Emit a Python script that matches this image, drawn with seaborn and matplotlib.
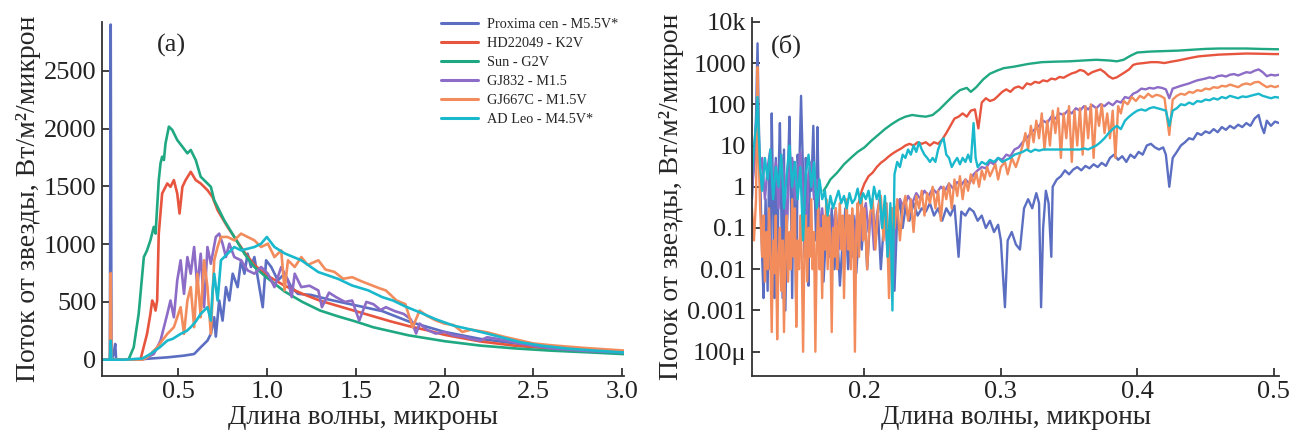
import matplotlib
matplotlib.use('Agg')
import matplotlib.pyplot as plt
import numpy as np
import pandas as pd
import seaborn as sns

# star names (legend order) and colours
stars = ['Proxima cen - M5.5V*', 'HD22049 - K2V', 'Sun - G2V',
         'GJ832 - M1.5', 'GJ667C - M1.5V', 'AD Leo - M4.5V*']
colors = ['#5b6ec2', '#e8553f', '#1fa882', '#8c6cc6', '#f28c5c', '#1ab8cc']

# ---------- panel (a): linear scale, 0.07 - 3 micron ----------
a_wl_prox = [0.07, 0.117, 0.1216, 0.126, 0.138, 0.147, 0.152, 0.3, 0.44, 0.534, 0.591, 0.628, 0.666, 0.685,
             0.704, 0.713, 0.732, 0.751, 0.77, 0.789, 0.808, 0.836, 0.855, 0.874, 0.892, 0.911, 0.93, 0.958,
             0.977, 0.996, 1.025, 1.062, 1.1, 1.138, 1.175, 1.25, 1.35, 1.5, 1.65, 1.8, 2.0, 2.2, 2.5, 2.8,
             3.0, 3.05]
a_fl_prox = [0, 0, 2900, 0, 49, 136, 0, 5, 20, 35, 49, 107, 165, 223,
             367, 200, 512, 338, 628, 512, 744, 628, 860, 744, 917, 802, 888, 628,
             454, 860, 802, 686, 744, 628, 570, 560, 520, 470, 420, 330, 240, 180, 120, 80,
             60, 58]

a_wl_hd = [0.07, 0.289, 0.326, 0.345, 0.355, 0.364, 0.374, 0.383, 0.392, 0.411, 0.44, 0.458, 0.477, 0.496,
           0.509, 0.525, 0.543, 0.572, 0.6, 0.628, 0.666, 0.694, 0.723, 0.779, 0.817, 0.874, 0.93, 1.0,
           1.1, 1.2, 1.3, 1.4, 1.5, 1.6, 1.7, 1.8, 1.9, 2.0, 2.2, 2.4, 2.6, 2.8, 3.0, 3.05]
a_fl_hd = [0, 0, 223, 396, 512, 483, 425, 512, 1091, 1438, 1525, 1496, 1554, 1438,
           1265, 1496, 1554, 1626, 1554, 1525, 1467, 1409, 1294, 1149, 1062, 930, 820, 730,
           640, 570, 510, 465, 420, 375, 330, 290, 255, 215, 158, 120, 97, 78, 64, 63]

a_wl_sun = [0.07, 0.2, 0.223, 0.251, 0.279, 0.308, 0.326, 0.345, 0.364, 0.374, 0.392, 0.402, 0.411, 0.421,
            0.43, 0.449, 0.468, 0.496, 0.525, 0.553, 0.572, 0.6, 0.628, 0.666, 0.685, 0.704, 0.76, 0.817,
            0.874, 0.93, 1.0, 1.1, 1.2, 1.3, 1.4, 1.5, 1.6, 1.7, 1.8, 1.9, 2.0, 2.2, 2.4, 2.6, 2.8,
            3.0, 3.05]
a_fl_sun = [0, 0, 5, 107, 396, 888, 946, 1033, 1149, 1091, 1554, 1700, 1757, 1728,
            1872, 2017, 1988, 1901, 1843, 1786, 1815, 1728, 1583, 1525, 1496, 1380, 1207, 1062,
            917, 802, 710, 590, 500, 425, 375, 330, 280, 245, 210, 185, 160, 122, 97, 78, 64,
            49, 48]

a_wl_gj832 = [0.07, 0.3, 0.364, 0.402, 0.44, 0.458, 0.477, 0.496, 0.515, 0.534, 0.553, 0.572, 0.591, 0.609,
              0.628, 0.647, 0.666, 0.685, 0.713, 0.732, 0.751, 0.77, 0.789, 0.817, 0.855, 0.892, 0.93,
              0.968, 1.006, 1.043, 1.081, 1.119, 1.14, 1.157, 1.194, 1.24, 1.29, 1.31, 1.35, 1.39, 1.44,
              1.48, 1.52, 1.56, 1.6, 1.64, 1.67, 1.72, 1.77, 1.81, 1.84, 1.86, 1.9, 1.95, 2.0, 2.05, 2.1,
              2.15, 2.2, 2.24, 2.3, 2.43, 2.5, 2.62, 2.8, 3.0, 3.05]
a_fl_gj832 = [0, 0, 49, 165, 396, 512, 367, 686, 860, 570, 888, 744, 975, 628,
              917, 454, 975, 830, 1062, 1091, 1004, 888, 1004, 888, 860, 773, 744,
              802, 744, 628, 802, 686, 541, 744, 628, 640, 599, 454, 580, 541, 500,
              512, 338, 500, 480, 430, 454, 420, 396, 350, 226, 312, 260, 226, 240, 210, 200,
              180, 165, 194, 180, 138, 120, 95, 75, 63, 62]

a_wl_gj667 = [0.07, 0.117, 0.1216, 0.126, 0.3, 0.326, 0.383, 0.44, 0.477, 0.515, 0.534, 0.553, 0.572, 0.591,
              0.609, 0.628, 0.647, 0.666, 0.685, 0.704, 0.723, 0.742, 0.779, 0.817, 0.855, 0.892, 0.93,
              0.968, 1.006, 1.043, 1.081, 1.1, 1.119, 1.157, 1.194, 1.23, 1.29, 1.33, 1.38, 1.43, 1.48,
              1.53, 1.58, 1.63, 1.67, 1.73, 1.78, 1.82, 1.86, 1.9, 1.95, 2.0, 2.05, 2.1, 2.15, 2.24, 2.33,
              2.43, 2.5, 2.62, 2.8, 3.0, 3.05]
a_fl_gj667 = [0, 0, 750, 0, 0, 20, 107, 223, 281, 454, 223, 512, 628, 281,
              744, 367, 860, 628, 223, 860, 975, 1062, 1062, 1033, 1091, 1062, 1033,
              975, 1004, 888, 946, 600, 860, 802, 888, 820, 860, 780, 760, 700, 714,
              680, 650, 620, 599, 512, 480, 280, 425, 380, 340, 312, 300, 240, 260, 237, 200,
              165, 140, 122, 100, 80, 78]

a_wl_adleo = [0.07, 0.117, 0.1216, 0.126, 0.2, 0.3, 0.345, 0.4, 0.44, 0.47, 0.515, 0.55, 0.572, 0.6,
              0.628, 0.666, 0.685, 0.695, 0.704, 0.723, 0.742, 0.779, 0.817, 0.855, 0.892, 0.93, 0.968,
              1.0, 1.043, 1.1, 1.194, 1.29, 1.4, 1.48, 1.57, 1.65, 1.71, 1.78, 1.86, 1.95, 2.05, 2.15,
              2.24, 2.33, 2.43, 2.55, 2.7, 2.85, 3.0, 3.05]
a_fl_adleo = [0, 0, 165, 0, 0, 10, 49, 110, 165, 180, 223, 250, 281, 330,
              396, 454, 338, 600, 744, 512, 860, 917, 975, 946, 960, 975, 1004,
              1062, 975, 920, 860, 758, 700, 642, 600, 541, 512, 460, 410, 350, 295, 260,
              226, 190, 150, 120, 95, 78, 63, 62]

# ---------- panel (b): log scale, 0.12 - 0.5 micron ----------
b_wl_prox = [0.1175, 0.119, 0.1205, 0.1216, 0.1225, 0.1235, 0.125, 0.126, 0.1275, 0.129, 0.130, 0.131,
             0.132, 0.133, 0.134, 0.135, 0.136, 0.137, 0.138, 0.139, 0.140, 0.141, 0.142, 0.143, 0.144,
             0.145, 0.146, 0.147, 0.148, 0.149, 0.150, 0.151, 0.152, 0.1535, 0.155, 0.156, 0.157, 0.158,
             0.159, 0.160, 0.161, 0.1625, 0.1635, 0.1645, 0.1655, 0.1665, 0.168, 0.169, 0.170, 0.172,
             0.174, 0.176, 0.178, 0.180, 0.182, 0.184, 0.186, 0.188, 0.190, 0.192, 0.194, 0.196, 0.198,
             0.200, 0.202, 0.204, 0.206, 0.208, 0.210, 0.212, 0.214, 0.216, 0.218, 0.220, 0.222, 0.224,
             0.226, 0.228, 0.230, 0.233, 0.236, 0.239, 0.242, 0.245, 0.248, 0.251, 0.254, 0.257, 0.260,
             0.263, 0.266, 0.269, 0.271, 0.274, 0.277, 0.280, 0.283, 0.286, 0.289, 0.292, 0.295, 0.298,
             0.300, 0.303, 0.305, 0.308, 0.311, 0.314, 0.317, 0.320, 0.323, 0.326, 0.328, 0.3295, 0.331,
             0.333, 0.335, 0.337, 0.338, 0.341, 0.344, 0.347, 0.350, 0.353, 0.356, 0.359, 0.362, 0.365,
             0.368, 0.371, 0.374, 0.377, 0.380, 0.383, 0.386, 0.389, 0.392, 0.395, 0.398, 0.401, 0.404,
             0.407, 0.410, 0.413, 0.416, 0.419, 0.421, 0.4235, 0.426, 0.429, 0.432, 0.435, 0.438, 0.441,
             0.444, 0.447, 0.450, 0.453, 0.456, 0.459, 0.462, 0.465, 0.468, 0.471, 0.474, 0.477, 0.480,
             0.483, 0.486, 0.489, 0.491, 0.493, 0.495, 0.498, 0.501, 0.504]
b_fl_prox = [0.5, 5, 50, 3000, 40, 2, 0.02, 0.002, 0.5, 0.003, 3, 0.01,
             60, 0.5, 0.002, 5, 0.001, 2, 35, 0.3, 0.002, 8, 0.001, 0.05, 3,
             50, 0.8, 0.002, 4, 0.3, 0.001, 6, 1.5, 160, 2, 0.02, 5, 0.3,
             0.004, 3, 0.8, 30, 1, 0.05, 28, 0.5, 0.01, 0.2, 0.005, 0.1,
             0.02, 0.3, 0.01, 0.08, 0.004, 0.05, 0.3, 0.01, 0.06, 0.2, 0.008, 0.1, 0.03,
             0.3, 0.01, 0.15, 0.4, 0.05, 0.2, 0.01, 0.1, 0.4, 0.02, 0.3, 0.003, 0.2,
             0.5, 0.1, 0.3, 0.15, 0.4, 0.2, 0.3, 0.25, 0.4, 0.2, 0.3, 0.15, 0.3,
             0.2, 0.35, 0.02, 0.25, 0.2, 0.3, 0.25, 0.15, 0.2, 0.1, 0.15, 0.08, 0.12,
             0.05, 0.0012, 0.05, 0.08, 0.04, 0.03, 0.3, 0.5, 0.3, 0.7, 0.4, 0.0012, 0.1,
             0.8, 0.4, 0.02, 1.0, 1.5, 1.8, 2.5, 2.0, 2.6, 3.0, 2.5, 3.2, 2.8,
             3.5, 3.0, 3.8, 3.2, 5, 6, 4.5, 5.5, 4, 6, 5, 7, 6,
             10, 11, 9, 8, 9, 6, 1.0, 5, 7, 10, 12, 15, 14,
             20, 18, 22, 20, 25, 21, 28, 24, 30, 26, 32, 28, 35,
             30, 45, 55, 30, 20, 40, 30, 38, 35]

b_wl_hd = [0.195, 0.198, 0.200, 0.203, 0.206, 0.209, 0.212, 0.215, 0.218, 0.221, 0.224, 0.227, 0.230,
           0.233, 0.236, 0.239, 0.242, 0.245, 0.248, 0.251, 0.254, 0.257, 0.260, 0.263, 0.266, 0.269,
           0.272, 0.275, 0.278, 0.281, 0.2835, 0.286, 0.289, 0.292, 0.295, 0.298, 0.301, 0.304, 0.307,
           0.310, 0.313, 0.316, 0.319, 0.322, 0.325, 0.328, 0.331, 0.334, 0.337, 0.340, 0.343, 0.346,
           0.349, 0.352, 0.355, 0.358, 0.361, 0.364, 0.367, 0.370, 0.373, 0.376, 0.379, 0.382, 0.385,
           0.388, 0.391, 0.394, 0.397, 0.400, 0.405, 0.410, 0.415, 0.420, 0.425, 0.430, 0.435, 0.440,
           0.445, 0.450, 0.455, 0.460, 0.470, 0.480, 0.490, 0.500, 0.505]
b_fl_hd = [0.3, 0.8, 1.2, 1.8, 2.2, 3, 3.8, 4.5, 5.5, 6.5, 7.5, 8.5, 10,
           11, 10, 12, 11, 12, 10, 12, 11, 14, 20, 30, 45, 50,
           60, 50, 70, 75, 26, 110, 140, 120, 130, 160, 200, 230, 200,
           250, 270, 240, 320, 300, 350, 330, 380, 360, 420, 400, 460, 440,
           500, 560, 600, 680, 640, 520, 600, 650, 700, 600, 480, 420, 450,
           520, 600, 700, 900, 960, 1000, 1050, 1050, 1000, 1080, 1150, 1250, 1350,
           1450, 1500, 1550, 1600, 1650, 1700, 1680, 1650, 1650]

b_wl_sun = [0.170, 0.172, 0.175, 0.180, 0.185, 0.190, 0.195, 0.200, 0.205, 0.210, 0.215, 0.220, 0.225,
            0.230, 0.235, 0.240, 0.245, 0.250, 0.255, 0.260, 0.265, 0.270, 0.275, 0.278, 0.282, 0.287,
            0.292, 0.297, 0.302, 0.310, 0.320, 0.330, 0.340, 0.350, 0.360, 0.370, 0.380, 0.385, 0.390,
            0.395, 0.400, 0.410, 0.420, 0.430, 0.440, 0.450, 0.460, 0.470, 0.480, 0.490, 0.505]
b_fl_sun = [0.8, 1.0, 1.5, 2.2, 3.5, 5, 7, 9, 13, 18, 25, 33, 42,
            50, 55, 52, 50, 55, 75, 110, 160, 220, 250, 200, 260, 400,
            550, 650, 750, 820, 950, 1050, 1080, 1100, 1150, 1200, 1150, 1100, 1200,
            1500, 1800, 1900, 1950, 2000, 2100, 2200, 2250, 2250, 2250, 2200, 2150]

b_wl_gj832 = [0.1175, 0.119, 0.1216, 0.123, 0.125, 0.127, 0.129, 0.131, 0.133, 0.135, 0.137, 0.139, 0.141,
              0.143, 0.145, 0.147, 0.149, 0.151, 0.153, 0.155, 0.157, 0.159, 0.161, 0.163, 0.165, 0.167,
              0.169, 0.171, 0.173, 0.175, 0.177, 0.179, 0.181, 0.183, 0.185, 0.187, 0.189, 0.191, 0.193,
              0.195, 0.197, 0.199, 0.201, 0.203, 0.205, 0.207, 0.209, 0.211, 0.213, 0.215, 0.217, 0.219,
              0.221, 0.223, 0.226, 0.229, 0.232, 0.235, 0.238, 0.241, 0.244, 0.247, 0.250, 0.253, 0.256,
              0.259, 0.262, 0.265, 0.268, 0.271, 0.274, 0.277, 0.280, 0.283, 0.286, 0.289, 0.292, 0.295,
              0.298, 0.301, 0.304, 0.307, 0.310, 0.313, 0.316, 0.319, 0.322, 0.325, 0.328, 0.331, 0.334,
              0.337, 0.340, 0.343, 0.346, 0.349, 0.352, 0.355, 0.358, 0.361, 0.364, 0.367, 0.370, 0.373,
              0.376, 0.379, 0.382, 0.385, 0.388, 0.391, 0.394, 0.397, 0.400, 0.403, 0.406, 0.409, 0.412,
              0.415, 0.418, 0.421, 0.4235, 0.426, 0.429, 0.432, 0.435, 0.438, 0.441, 0.444, 0.447, 0.450,
              0.453, 0.456, 0.459, 0.462, 0.465, 0.468, 0.471, 0.474, 0.477, 0.480, 0.483, 0.486, 0.489,
              0.492, 0.495, 0.498, 0.501, 0.504]
b_fl_gj832 = [1, 3, 20, 2, 5, 0.5, 3, 8, 1, 4, 0.3, 6, 2,
              0.1, 3, 5, 0.5, 2, 7, 1, 0.05, 2, 4, 0.5, 1.5, 0.1,
              0.3, 0.05, 0.2, 0.02, 0.1, 0.3, 0.03, 0.15, 0.01, 0.1, 0.2, 0.02, 0.08,
              0.3, 0.05, 0.2, 0.4, 0.08, 0.3, 0.03, 0.2, 0.5, 0.1, 0.3, 0.02, 0.15,
              0.005, 0.3, 0.5, 0.3, 0.6, 0.4, 0.7, 0.5, 0.8, 0.6, 0.9, 0.7, 1.0,
              0.8, 1.2, 0.9, 1.3, 1.1, 1.5, 1.2, 2, 2.5, 3, 2.8, 4, 3.5,
              5, 4.5, 6, 5.5, 8, 9, 12, 15, 20, 25, 30, 40, 35,
              50, 45, 60, 55, 70, 60, 80, 70, 90, 75, 95, 80, 100,
              90, 110, 95, 120, 110, 150, 140, 180, 200, 240, 230, 250, 240,
              260, 250, 230, 140, 240, 260, 280, 300, 320, 350, 380, 400, 420,
              450, 430, 480, 500, 470, 520, 540, 500, 550, 600, 580, 650, 700,
              600, 480, 520, 500, 520]

b_wl_gj667 = [0.1175, 0.119, 0.1205, 0.1216, 0.1225, 0.1235, 0.125, 0.126, 0.127, 0.128, 0.129, 0.130,
              0.131, 0.132, 0.133, 0.134, 0.135, 0.136, 0.137, 0.138, 0.139, 0.140, 0.141, 0.142, 0.143,
              0.144, 0.145, 0.146, 0.147, 0.148, 0.149, 0.150, 0.151, 0.152, 0.153, 0.154, 0.155, 0.156,
              0.157, 0.158, 0.159, 0.160, 0.161, 0.162, 0.163, 0.164, 0.165, 0.166, 0.167, 0.168, 0.169,
              0.170, 0.171, 0.172, 0.173, 0.174, 0.175, 0.176, 0.177, 0.178, 0.179, 0.180, 0.181, 0.182,
              0.183, 0.184, 0.185, 0.186, 0.187, 0.188, 0.189, 0.190, 0.191, 0.192, 0.193, 0.194, 0.195,
              0.196, 0.197, 0.198, 0.199, 0.200, 0.202, 0.204, 0.206, 0.208, 0.210, 0.212, 0.214, 0.216,
              0.218, 0.220, 0.222, 0.224, 0.226, 0.228, 0.230, 0.232, 0.234, 0.236, 0.238, 0.240, 0.242,
              0.244, 0.246, 0.248, 0.250, 0.252, 0.254, 0.256, 0.258, 0.260, 0.262, 0.264, 0.266, 0.268,
              0.270, 0.272, 0.274, 0.276, 0.278, 0.280, 0.282, 0.284, 0.286, 0.288, 0.290, 0.292, 0.294,
              0.296, 0.298, 0.300, 0.303, 0.305, 0.308, 0.311, 0.314, 0.316, 0.318, 0.320, 0.322, 0.324,
              0.326, 0.328, 0.330, 0.332, 0.334, 0.336, 0.338, 0.340, 0.342, 0.344, 0.346, 0.348, 0.350,
              0.352, 0.354, 0.356, 0.358, 0.360, 0.362, 0.364, 0.366, 0.368, 0.370, 0.372, 0.374, 0.376,
              0.378, 0.380, 0.382, 0.384, 0.386, 0.388, 0.390, 0.393, 0.396, 0.399, 0.402, 0.405, 0.408,
              0.411, 0.414, 0.417, 0.420, 0.4235, 0.426, 0.429, 0.432, 0.435, 0.438, 0.441, 0.444, 0.447,
              0.450, 0.453, 0.456, 0.459, 0.462, 0.465, 0.468, 0.471, 0.474, 0.477, 0.480, 0.483, 0.486,
              0.489, 0.492, 0.495, 0.498, 0.501, 0.504]
b_fl_gj667 = [0.3, 0.05, 0.5, 800, 5, 0.3, 0.02, 0.2, 0.005, 0.08, 0.01, 0.3,
              0.02, 0.0003, 0.05, 0.008, 0.2, 0.0002, 0.02, 0.1, 0.003, 0.05, 0.0003, 0.03, 0.2,
              0.005, 0.08, 0.01, 0.5, 0.02, 0.3, 0.0004, 0.05, 0.01, 0.2, 0.02, 0.0001, 0.03,
              0.2, 0.005, 0.1, 0.02, 0.5, 0.01, 0.08, 0.0001, 0.03, 0.3, 0.01, 0.1, 0.002,
              0.2, 0.03, 0.5, 0.01, 0.2, 0.05, 0.0003, 0.1, 0.02, 0.3, 0.01, 0.1, 0.4,
              0.03, 0.2, 0.002, 0.1, 0.5, 0.03, 0.2, 0.01, 0.3, 0.05, 0.0001, 0.08, 0.4,
              0.02, 0.2, 0.6, 0.05, 0.3, 0.01, 0.2, 0.5, 0.03, 0.3, 0.6, 0.05, 0.4,
              0.002, 0.3, 0.1, 0.5, 0.05, 0.3, 0.6, 0.15, 0.5, 0.08, 0.6, 0.3, 0.8,
              0.2, 0.7, 0.4, 1.0, 0.3, 0.8, 0.15, 1.0, 0.5, 1.2, 0.3, 1.5, 0.6,
              1.8, 0.5, 1.5, 0.8, 2.0, 1.2, 2.2, 1.0, 2.5, 1.5, 3.0, 1.8, 2.5,
              3.5, 1.5, 3.0, 4, 2, 5, 3, 6, 10, 20, 8, 30, 12,
              40, 15, 60, 8, 40, 10, 70, 20, 80, 5, 60, 15, 90,
              4, 70, 10, 80, 6, 90, 15, 100, 5, 80, 30, 100, 20,
              60, 15, 70, 5, 90, 60, 120, 100, 150, 120, 160, 140, 180,
              150, 170, 160, 140, 18, 130, 160, 180, 170, 200, 190, 220, 210,
              240, 230, 260, 250, 280, 270, 300, 280, 260, 300, 320, 300, 340,
              350, 300, 260, 280, 260, 280]

b_wl_adleo = [0.1175, 0.119, 0.1205, 0.1216, 0.1225, 0.1235, 0.125, 0.127, 0.129, 0.131, 0.133, 0.135,
              0.137, 0.139, 0.141, 0.143, 0.145, 0.147, 0.149, 0.151, 0.153, 0.155, 0.157, 0.159, 0.161,
              0.163, 0.165, 0.167, 0.169, 0.171, 0.173, 0.175, 0.177, 0.179, 0.181, 0.183, 0.185, 0.187,
              0.189, 0.191, 0.193, 0.195, 0.197, 0.199, 0.201, 0.203, 0.205, 0.207, 0.209, 0.211, 0.213,
              0.215, 0.217, 0.219, 0.2205, 0.222, 0.224, 0.226, 0.228, 0.230, 0.232, 0.234, 0.236, 0.238,
              0.240, 0.242, 0.244, 0.246, 0.248, 0.250, 0.252, 0.254, 0.256, 0.258, 0.260, 0.262, 0.264,
              0.266, 0.268, 0.270, 0.272, 0.274, 0.276, 0.278, 0.280, 0.2815, 0.283, 0.286, 0.289, 0.292,
              0.295, 0.298, 0.301, 0.304, 0.307, 0.310, 0.313, 0.316, 0.319, 0.322, 0.325, 0.328, 0.331,
              0.334, 0.337, 0.340, 0.343, 0.346, 0.349, 0.352, 0.355, 0.358, 0.361, 0.364, 0.367, 0.370,
              0.373, 0.376, 0.379, 0.382, 0.385, 0.388, 0.391, 0.394, 0.397, 0.400, 0.403, 0.406, 0.409,
              0.412, 0.415, 0.418, 0.421, 0.4235, 0.426, 0.429, 0.432, 0.435, 0.438, 0.441, 0.444, 0.447,
              0.450, 0.453, 0.456, 0.459, 0.462, 0.465, 0.468, 0.471, 0.474, 0.477, 0.480, 0.483, 0.486,
              0.489, 0.492, 0.495, 0.498, 0.501, 0.504]
b_fl_adleo = [2, 10, 30, 150, 20, 3, 0.8, 5, 1.5, 8, 0.5, 3,
              1, 6, 0.3, 2, 10, 1, 4, 0.5, 3, 0.05, 2, 6, 1,
              4, 0.3, 1.5, 0.5, 0.8, 0.2, 0.6, 0.3, 0.5, 0.8, 0.4, 0.6, 0.3,
              0.7, 0.4, 0.5, 0.9, 0.4, 0.7, 0.5, 0.8, 0.3, 1.0, 0.5, 0.8, 0.1,
              0.6, 0.02, 0.4, 0.001, 2, 4, 3, 6, 5, 8, 6, 10, 7,
              12, 8, 6, 5, 4, 5, 4, 8, 12, 15, 6, 5, 3,
              4, 5, 3.5, 5, 4, 6, 4, 35, 5, 3, 4, 3.5, 4.5,
              4, 5, 4, 4.5, 5, 6, 6.5, 7, 8, 7, 8, 7.5, 8,
              8, 8, 8, 8, 8, 8, 8, 8, 8, 8.5, 8, 9, 10,
              12, 15, 20, 25, 30, 25, 40, 50, 60, 70, 75, 70, 80,
              85, 80, 75, 70, 30, 70, 80, 100, 95, 110, 100, 120, 115,
              130, 125, 140, 130, 150, 140, 160, 150, 140, 155, 150, 160, 170,
              180, 160, 150, 140, 150, 145]

panel_a = [(a_wl_prox, a_fl_prox), (a_wl_hd, a_fl_hd), (a_wl_sun, a_fl_sun),
           (a_wl_gj832, a_fl_gj832), (a_wl_gj667, a_fl_gj667), (a_wl_adleo, a_fl_adleo)]
panel_b = [(b_wl_prox, b_fl_prox), (b_wl_hd, b_fl_hd), (b_wl_sun, b_fl_sun),
           (b_wl_gj832, b_fl_gj832), (b_wl_gj667, b_fl_gj667), (b_wl_adleo, b_fl_adleo)]

log_ticks = [1e-4, 1e-3, 1e-2, 1e-1, 1, 10, 100, 1000, 1e4]
log_labels = ['100μ', '0.001', '0.01', '0.1', '1', '10', '100', '1000', '10k']


def to_frame(series):
    parts = []
    for name, (wl, fl) in zip(stars, series):
        parts.append(pd.DataFrame({'wl': wl, 'flux': fl, 'star': name}))
    return pd.concat(parts, ignore_index=True)


sns.set_style('ticks')
plt.rcParams['font.family'] = ['Liberation Serif', 'DejaVu Serif']
plt.rcParams['axes.edgecolor'] = '#333333'
plt.rcParams['axes.linewidth'] = 1.3

fig = plt.figure(figsize=(12.92, 4.34), dpi=100)
ax1 = fig.add_axes([0.079, 0.134, 0.404, 0.816])
ax2 = fig.add_axes([0.582, 0.134, 0.408, 0.825])

pal = dict(zip(stars, colors))
sns.lineplot(data=to_frame(panel_a), x='wl', y='flux', hue='star', hue_order=stars,
             palette=pal, estimator=None, sort=False, lw=1.9, ax=ax1)
sns.lineplot(data=to_frame(panel_b), x='wl', y='flux', hue='star', hue_order=stars,
             palette=pal, estimator=None, sort=False, lw=1.7, ax=ax2, legend=False)

# panel (a)
ax1.set_xlim(0.073, 3.01)
ax1.set_ylim(-140, 2925)
ax1.set_xticks([0.5, 1.0, 1.5, 2.0, 2.5, 3.0])
ax1.set_xticklabels(['0.5', '1.0', '1.5', '2.0', '2.5', '3.0'])
ax1.set_yticks([0, 500, 1000, 1500, 2000, 2500])
ax1.text(0.105, 0.965, '(a)', transform=ax1.transAxes, fontsize=19, va='top')
leg = ax1.legend(loc='upper right', bbox_to_anchor=(1.005, 1.035), frameon=False, fontsize=10.3,
                 handlelength=2.6, labelspacing=0.42, handletextpad=0.6, borderaxespad=0.2)
for line in leg.get_lines():
    line.set_linewidth(2.2)

# panel (b)
ax2.set_yscale('log')
ax2.set_xlim(0.1175, 0.504)
ax2.set_ylim(2.6e-5, 1.25e4)
ax2.set_xticks([0.2, 0.3, 0.4, 0.5])
ax2.set_xticklabels(['0.2', '0.3', '0.4', '0.5'])
ax2.set_yticks(log_ticks)
ax2.set_yticklabels(log_labels)
ax2.minorticks_off()
ax2.text(0.035, 0.955, '(б)', transform=ax2.transAxes, fontsize=19, va='top')

for ax in (ax1, ax2):
    sns.despine(ax=ax)
    ax.tick_params(direction='in', length=6, width=1.2, labelsize=19, colors='#222222', pad=4)
    ax.set_xlabel('Длина волны, микроны', fontsize=19.5, labelpad=1)
    ax.set_ylabel('Поток от звезды, Вт/м²/микрон', fontsize=20, labelpad=2)

fig.savefig('out.png', dpi=100)
